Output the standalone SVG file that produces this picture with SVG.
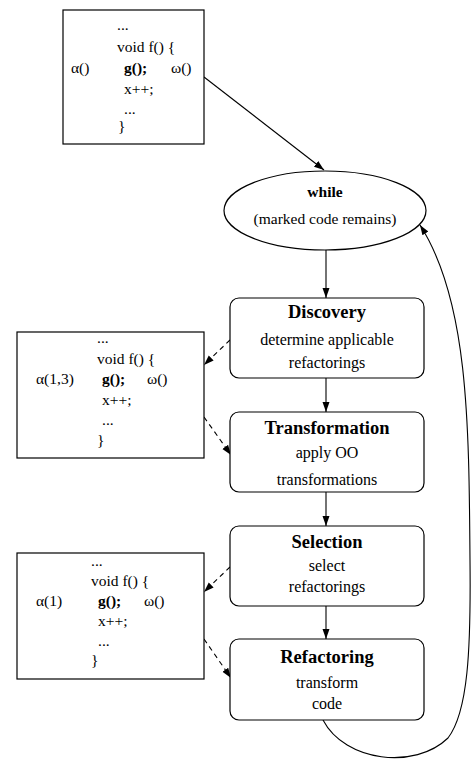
<svg xmlns="http://www.w3.org/2000/svg" width="471" height="759" viewBox="0 0 471 759">
<style>
text{font-family:"Liberation Serif","Times New Roman",serif;fill:#000}
.code{font-size:15.5px}
.b{font-weight:bold}
.t{font-size:18.5px;font-weight:bold;text-anchor:middle}
.d{font-size:16px;text-anchor:middle}
.e{font-size:15.5px;text-anchor:middle}
.box{fill:#fff;stroke:#000;stroke-width:1.2}
.step{fill:#fff;stroke:#000;stroke-width:1.2}
.edge{fill:none;stroke:#000;stroke-width:1.1}
.dash{fill:none;stroke:#000;stroke-width:1.1;stroke-dasharray:5,4}
</style>
<defs>
<marker id="ah" viewBox="0 0 10 10" refX="10" refY="5" markerWidth="10" markerHeight="10" markerUnits="userSpaceOnUse" orient="auto">
<path d="M0,1.5 L10,5 L0,8.5 Z" fill="#000"/>
</marker>
</defs>
<g id="connectors">
<line class="edge" x1="204" y1="77" x2="324" y2="170" marker-end="url(#ah)"/>
<line class="edge" x1="326" y1="250" x2="326" y2="298" marker-end="url(#ah)"/>
<line class="edge" x1="326" y1="378" x2="326" y2="412" marker-end="url(#ah)"/>
<line class="edge" x1="326" y1="492" x2="326" y2="526" marker-end="url(#ah)"/>
<line class="edge" x1="326" y1="606" x2="326" y2="639" marker-end="url(#ah)"/>
<line class="dash" x1="230" y1="340" x2="204" y2="365" marker-end="url(#ah)"/>
<line class="dash" x1="204" y1="417" x2="231" y2="455" marker-end="url(#ah)"/>
<line class="dash" x1="230" y1="567" x2="204" y2="592" marker-end="url(#ah)"/>
<line class="dash" x1="204" y1="639" x2="231" y2="678" marker-end="url(#ah)"/>
<path class="edge" d="M323,720 C345,762 415,770 448,738 C468,712 471,650 470,560 C469,420 468,300 420,225" marker-end="url(#ah)"/>
</g>
<g id="code0">
<rect class="box" x="63" y="10" width="141" height="134"/>
<text class="code" x="117" y="30">...</text>
<text class="code" x="117" y="52">void f() {</text>
<text class="code" x="71" y="73">α()</text>
<text class="code b" x="124" y="73">g();</text>
<text class="code" x="171" y="73">ω()</text>
<text class="code" x="124" y="94">x++;</text>
<text class="code" x="124" y="114">...</text>
<text class="code" x="118" y="131">}</text>
</g>
<g id="while">
<ellipse class="box" cx="325" cy="210.5" rx="101" ry="39.5"/>
<text class="e b" x="325" y="197">while</text>
<text class="e" x="325" y="224">(marked code remains)</text>
</g>
<g id="discovery">
<rect class="step" x="230" y="298" width="194" height="80" rx="9"/>
<text class="t" x="327" y="318">Discovery</text>
<text class="d" x="327" y="345">determine applicable</text>
<text class="d" x="327" y="368">refactorings</text>
</g>
<g id="transformation">
<rect class="step" x="230" y="412" width="194" height="80" rx="9"/>
<text class="t" x="327" y="434">Transformation</text>
<text class="d" x="327" y="458">apply OO</text>
<text class="d" x="327" y="485">transformations</text>
</g>
<g id="selection">
<rect class="step" x="230" y="526" width="194" height="80" rx="9"/>
<text class="t" x="327" y="548">Selection</text>
<text class="d" x="327" y="571">select</text>
<text class="d" x="327" y="592">refactorings</text>
</g>
<g id="refactoring">
<rect class="step" x="230" y="639" width="194" height="81" rx="9"/>
<text class="t" x="327" y="663">Refactoring</text>
<text class="d" x="327" y="688">transform</text>
<text class="d" x="327" y="709">code</text>
</g>
<g id="code1">
<rect class="box" x="17" y="332" width="187" height="126"/>
<text class="code" x="97" y="343">...</text>
<text class="code" x="97" y="364">void f() {</text>
<text class="code" x="36" y="384">α(1,3)</text>
<text class="code b" x="102" y="384">g();</text>
<text class="code" x="147" y="384">ω()</text>
<text class="code" x="102" y="405">x++;</text>
<text class="code" x="102" y="425">...</text>
<text class="code" x="97" y="445">}</text>
</g>
<g id="code2">
<rect class="box" x="17" y="553" width="187" height="126"/>
<text class="code" x="91" y="566">...</text>
<text class="code" x="91" y="586">void f() {</text>
<text class="code" x="36" y="606">α(1)</text>
<text class="code b" x="98" y="606">g();</text>
<text class="code" x="144" y="606">ω()</text>
<text class="code" x="98" y="626">x++;</text>
<text class="code" x="98" y="646">...</text>
<text class="code" x="91" y="665">}</text>
</g>
</svg>
